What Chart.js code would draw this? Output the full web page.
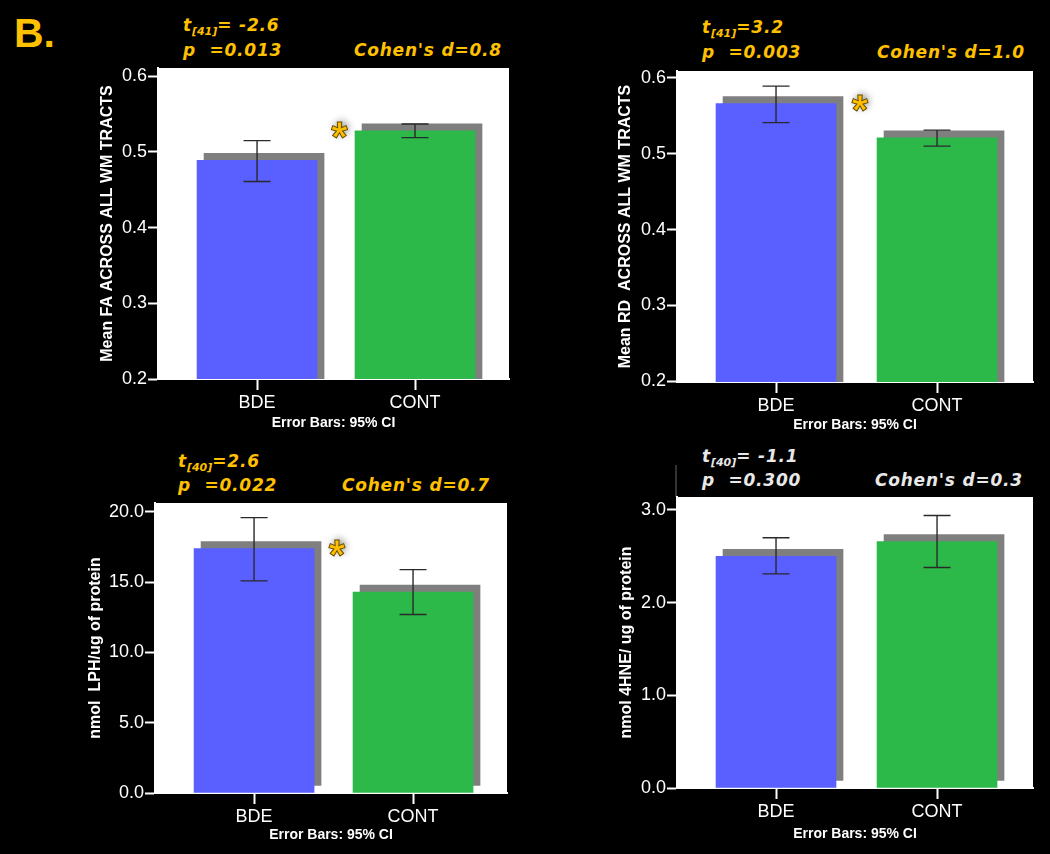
<!DOCTYPE html>
<html lang="en">
<head>
<meta charset="UTF-8">
<title>BDE vs CONT</title>
<script src="https://cdn.jsdelivr.net/npm/chart.js@4.4.0/dist/chart.umd.min.js"></script>
<style>
    html, body { margin: 0; padding: 0; background: #000; }
    #page { position: relative; width: 1050px; height: 854px; background: #000; overflow: hidden; }
    canvas { position: absolute; }
    .note {
        position: absolute;
        font-family: "DejaVu Sans";
        font-weight: bold;
        font-style: italic;
        font-size: 17px;
        line-height: 17px;
        letter-spacing: 0.8px;
        color: #ffc000;
        white-space: pre;
    }
    .note sub { font-size: 11px; vertical-align: -4px; line-height: 0; letter-spacing: 0; }
    .grey { color: #e8e8e8; }
    #panelLetter { position: absolute; left: 14px; top: 10px; font: bold 41px "Liberation Sans"; color: #ffc000; }
</style>
</head>
<body>
<div id="page">
    <div id="panelLetter">B.</div>

    <div class="note" style="left:183px; top:17px;">t<sub>[41]</sub>= -2.6</div>
    <div class="note" style="left:183px; top:42px;">p  =0.013</div>
    <div class="note" style="right:548px; top:42px;">Cohen's d=0.8</div>

    <div class="note" style="left:702px; top:19px;">t<sub>[41]</sub>=3.2</div>
    <div class="note" style="left:702px; top:44px;">p  =0.003</div>
    <div class="note" style="right:25px; top:44px;">Cohen's d=1.0</div>

    <div class="note" style="left:178px; top:453px;">t<sub>[40]</sub>=2.6</div>
    <div class="note" style="left:178px; top:477px;">p  =0.022</div>
    <div class="note" style="right:560px; top:477px;">Cohen's d=0.7</div>

    <div class="note grey" style="left:702px; top:448px;">t<sub>[40]</sub>= -1.1</div>
    <div class="note grey" style="left:702px; top:472px;">p  =0.300</div>
    <div class="note grey" style="right:27px; top:472px;">Cohen's d=0.3</div>

    <canvas id="fa"></canvas>
    <canvas id="rd"></canvas>
    <canvas id="lph"></canvas>
    <canvas id="hne"></canvas>
</div>
<script>
// groups on the x axis
const groups = ['BDE', 'CONT'];
const barColors = ['#5a5fff', '#2db84a'];

// mean FA, 95% CI
const faMeans = [0.489, 0.528];
const faLow   = [0.461, 0.519];
const faHigh  = [0.515, 0.537];
const faTicks = [0.2, 0.3, 0.4, 0.5, 0.6];

// mean RD, 95% CI
const rdMeans = [0.566, 0.521];
const rdLow   = [0.541, 0.510];
const rdHigh  = [0.589, 0.531];
const rdTicks = [0.2, 0.3, 0.4, 0.5, 0.6];

// LPH
const lphMeans = [17.4, 14.3];
const lphLow   = [15.1, 12.7];
const lphHigh  = [19.6, 15.9];
const lphTicks = [0, 5, 10, 15, 20];

// 4HNE
const hneMeans = [2.50, 2.66];
const hneLow   = [2.31, 2.38];
const hneHigh  = [2.70, 2.94];
const hneTicks = [0, 1, 2, 3];

// white plot area, plus the little stub above panel 4
const plotBg = {
    id: 'plotBg',
    beforeDraw(chart, args, opts) {
        const {ctx, chartArea: a} = chart;
        ctx.save();
        ctx.fillStyle = '#fff';
        ctx.fillRect(a.left, a.top, a.right - a.left, a.bottom - a.top);
        if (opts.stub) {
            ctx.strokeStyle = '#333';
            ctx.lineWidth = 2;
            ctx.beginPath();
            ctx.moveTo(a.left - 1, a.top - opts.stub);
            ctx.lineTo(a.left - 1, a.top);
            ctx.stroke();
        }
        ctx.restore();
    }
};

// grey block behind each bar, up and to the right
const barShadow = {
    id: 'barShadow',
    beforeDatasetDraw(chart) {
        const ctx = chart.ctx;
        ctx.save();
        ctx.shadowColor = '#7f7f7f';
        ctx.shadowBlur = 0;
        ctx.shadowOffsetX = 7;
        ctx.shadowOffsetY = -7;
    },
    afterDatasetDraw(chart) {
        chart.ctx.restore();
    }
};

const errorBars = {
    id: 'errorBars',
    afterDatasetsDraw(chart, args, opts) {
        const {ctx, scales: {y}} = chart;
        const bars = chart.getDatasetMeta(0).data;
        ctx.save();
        ctx.strokeStyle = '#2a2a2a';
        ctx.lineWidth = 1.4;
        bars.forEach((bar, i) => {
            const top = y.getPixelForValue(opts.high[i]);
            const bot = y.getPixelForValue(opts.low[i]);
            ctx.beginPath();
            ctx.moveTo(bar.x, top); ctx.lineTo(bar.x, bot);
            ctx.moveTo(bar.x - 13.5, top); ctx.lineTo(bar.x + 13.5, top);
            ctx.moveTo(bar.x - 13.5, bot); ctx.lineTo(bar.x + 13.5, bot);
            ctx.stroke();
        });
        if (opts.star) {
            const gapX = (bars[0].x + bars[0].width / 2 + 7 + bars[1].x - bars[1].width / 2) / 2;
            const topY = Math.min(bars[0].y, bars[1].y) - 3;
            ctx.font = 'bold 42px "Liberation Sans"';
            ctx.textAlign = 'center';
            ctx.textBaseline = 'alphabetic';
            ctx.shadowColor = 'rgba(0,0,0,0.45)';
            ctx.shadowBlur = 7;
            ctx.shadowOffsetX = 2;
            ctx.shadowOffsetY = -2;
            ctx.fillStyle = '#ffc000';
            ctx.fillText('*', gapX, topY + 23);
            ctx.shadowColor = 'transparent';
            ctx.strokeStyle = '#6b4d00';
            ctx.lineWidth = 1;
            ctx.strokeText('*', gapX, topY + 23);
        }
        ctx.restore();
    }
};

function drawPanel(id, p) {
    const canvas = document.getElementById(id);
    canvas.width = p.box.w;
    canvas.height = p.box.h;
    canvas.style.left = p.box.x + 'px';
    canvas.style.top = p.box.y + 'px';

    const padLeft = p.yTitleX - 13.6 - p.box.x;
    const yWidth = p.area.l - p.box.x - padLeft;
    const xHeight = p.box.y + p.box.h - p.area.b;

    const white = '#fff';
    new Chart(canvas, {
        type: 'bar',
        data: {
            datasets: [{
                data: p.means.map((v, i) => ({x: i, y: v})),
                backgroundColor: barColors,
                borderWidth: 0,
                barThickness: 120
            }]
        },
        options: {
            responsive: false,
            animation: false,
            layout: { padding: { left: padLeft, top: p.area.t - p.box.y, right: p.box.x + p.box.w - p.area.r, bottom: 0 } },
            plugins: {
                legend: { display: false },
                tooltip: { enabled: false },
                plotBg: { stub: p.stub || 0 },
                errorBars: { low: p.low, high: p.high, star: p.star }
            },
            scales: {
                x: {
                    type: 'linear',
                    offset: false,
                    min: p.xMin,
                    max: p.xMax,
                    afterBuildTicks: s => { s.ticks = groups.map((g, i) => ({value: i})); },
                    afterFit: s => { s.height = xHeight; },
                    ticks: {
                        callback: v => groups[v],
                        color: white,
                        font: { family: 'Liberation Sans', size: 18 },
                        padding: 2,
                        autoSkip: false,
                        maxRotation: 0
                    },
                    grid: { offset: false, drawOnChartArea: false, drawTicks: true, tickLength: 11, tickColor: white, tickWidth: 2 },
                    border: { color: white, width: 2 },
                    title: {
                        display: true,
                        text: 'Error Bars: 95% CI',
                        color: white,
                        font: { family: 'Liberation Sans', size: 14, weight: 'bold' },
                        padding: 3
                    }
                },
                y: {
                    min: p.yMin,
                    max: p.yMax,
                    afterBuildTicks: s => { s.ticks = p.ticks.map(v => ({value: v})); },
                    afterFit: s => { s.width = yWidth; },
                    ticks: {
                        callback: v => v.toFixed(1),
                        color: white,
                        font: { family: 'Liberation Sans', size: 18 },
                        padding: 1
                    },
                    grid: { drawOnChartArea: false, drawTicks: true, tickLength: 10, tickColor: white, tickWidth: 2 },
                    border: { color: white, width: 2 },
                    title: {
                        display: true,
                        text: p.yTitle,
                        color: white,
                        font: { family: 'Liberation Sans', size: 16, weight: 'bold' },
                        padding: 4
                    }
                }
            }
        },
        plugins: [plotBg, barShadow, errorBars]
    });
}

drawPanel('fa', {
    box: {x: 0, y: 0, w: 525, h: 435},
    area: {l: 158, t: 68, r: 509, b: 379},
    yTitleX: 108,
    xMin: -0.627, xMax: 1.595,
    yMin: 0.2, yMax: 0.611,
    ticks: faTicks,
    means: faMeans, low: faLow, high: faHigh,
    yTitle: 'Mean FA ACROSS ALL WM TRACTS',
    star: true
});

drawPanel('rd', {
    box: {x: 525, y: 0, w: 525, h: 437},
    area: {l: 677, t: 71, r: 1033, b: 382},
    yTitleX: 626,
    xMin: -0.615, xMax: 1.596,
    yMin: 0.199, yMax: 0.609,
    ticks: rdTicks,
    means: rdMeans, low: rdLow, high: rdHigh,
    yTitle: 'Mean RD  ACROSS ALL WM TRACTS',
    star: true
});

drawPanel('lph', {
    box: {x: 0, y: 440, w: 525, h: 407},
    area: {l: 155, t: 503, r: 507, b: 793},
    yTitleX: 96,
    xMin: -0.623, xMax: 1.591,
    yMin: 0, yMax: 20.64,
    ticks: lphTicks,
    means: lphMeans, low: lphLow, high: lphHigh,
    yTitle: 'nmol  LPH/ug of protein',
    star: true
});

drawPanel('hne', {
    box: {x: 525, y: 440, w: 525, h: 406},
    area: {l: 677, t: 497, r: 1033, b: 788},
    yTitleX: 627,
    xMin: -0.615, xMax: 1.596,
    yMin: 0, yMax: 3.14,
    ticks: hneTicks,
    means: hneMeans, low: hneLow, high: hneHigh,
    yTitle: 'nmol 4HNE/ ug of protein',
    star: false,
    stub: 32
});
</script>
</body>
</html>
